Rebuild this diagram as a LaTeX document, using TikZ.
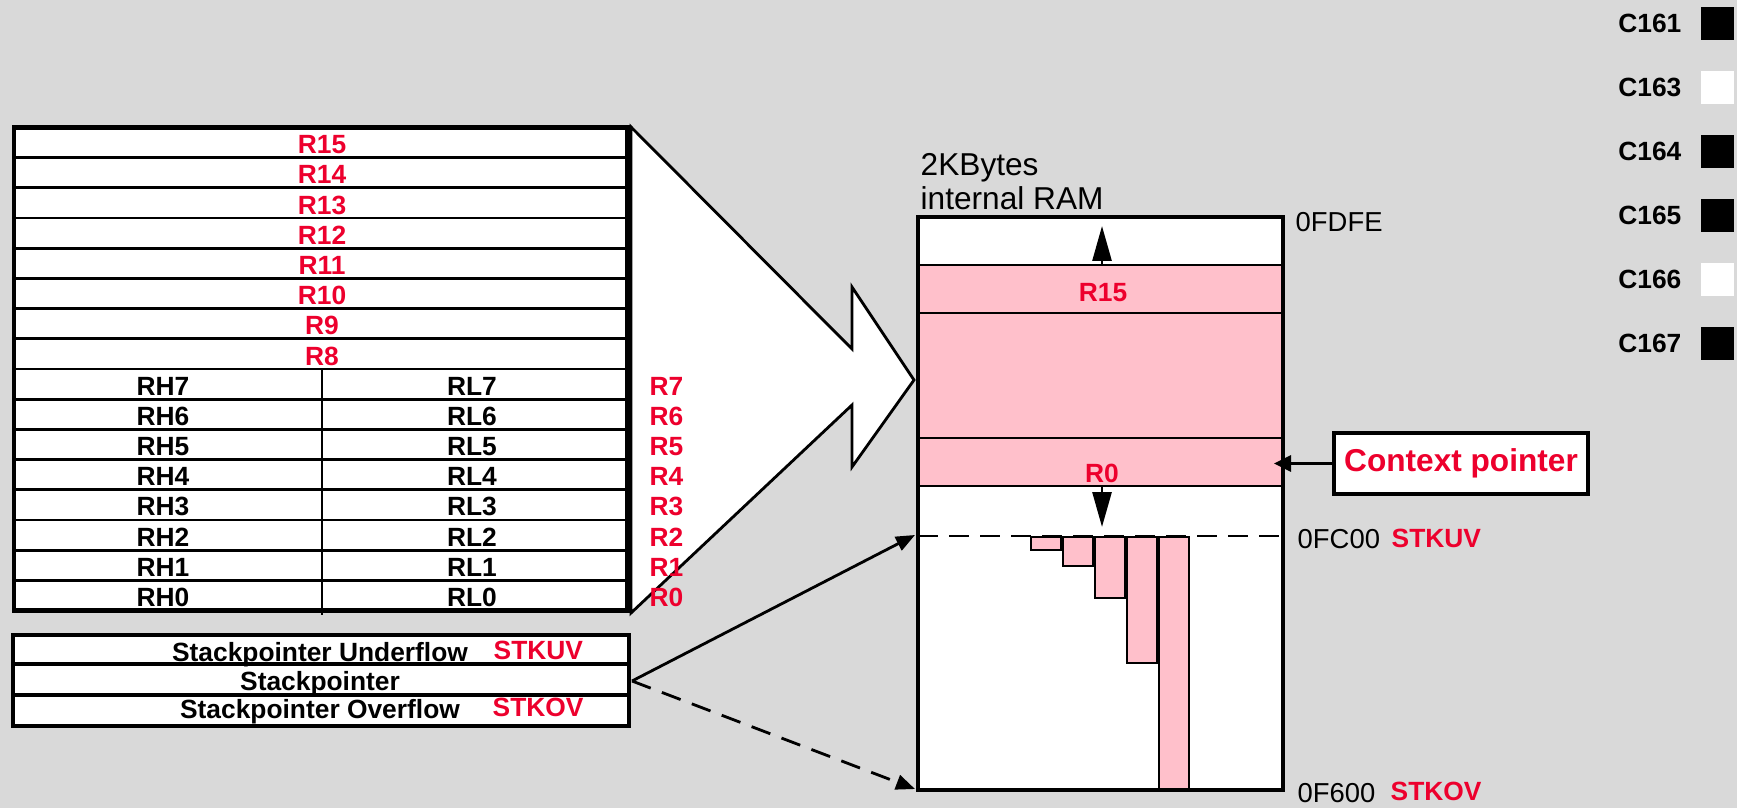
\documentclass[tikz,border=0pt]{standalone}
\usepackage{fontspec}
\setmainfont{Liberation Sans}
\usetikzlibrary{arrows.meta}
\definecolor{bggray}{RGB}{217,217,217}
\definecolor{regred}{RGB}{237,0,45}
\definecolor{rampink}{RGB}{255,192,203}

\begin{document}
\begin{tikzpicture}[x=0.1mm,y=-0.1mm,
    lbl/.style={font=\fontsize{7.5}{9}\selectfont\bfseries,inner sep=0pt,anchor=base},
    redlbl/.style={lbl,text=regred},
    addr/.style={font=\fontsize{7.8}{9}\selectfont,inner sep=0pt,anchor=base west},
    thin line/.style={line width=0.8pt},
    tip/.style={-{Triangle[length=1.9mm,width=1.5mm]}},
    bigtip/.style={-{Triangle[length=3.5mm,width=1.9mm]}}]

            \fill[bggray] (0,0) rectangle (1737,808);
            \useasboundingbox (0,0) rectangle (1737,808);

            \coordinate (wa) at (631,127);
            \coordinate (wb) at (852,349);
            \coordinate (wc) at (852,287);
            \coordinate (wd) at (914,380);
            \coordinate (we) at (852,467);
            \coordinate (wf) at (852,405);
            \coordinate (wg) at (631,613);

            \draw[thin line,fill=white,line join=miter] (wa)--(wb)--(wc)--(wd)--(we)--(wf)--(wg)--cycle;

            % register bank
            \fill[white] (14,127.5) rectangle (628.5,610.5);
            \foreach \k in {1,...,15}{
                \draw[thin line] (14,{127.5+30.19*\k}) -- (628.5,{127.5+30.19*\k});
            }
            \draw[thin line] (322,369) -- (322,615);
            \draw[line width=1.4pt] (14,127.5) rectangle (628.5,610.5);
            \draw[line width=2pt] (628.5,127.5) -- (628.5,612);

            \foreach \n [count=\i] in {15,...,8}{
                \node[redlbl] (r\n) at (322,{127.5+30.19*\i-4}) {R\n};
            }
            \foreach \n [count=\i from 9] in {7,...,0}{
                \node[lbl] (rh\n) at (163,{127.5+30.19*\i-4}) {RH\n};
                \node[lbl] (rl\n) at (472,{127.5+30.19*\i-4}) {RL\n};
                \node[redlbl,anchor=base west] (rr\n) at (649,{127.5+30.19*\i-4}) {R\n};
            }

            % stack pointer registers
            \fill[white] (13,635) rectangle (629,726);
            \draw[line width=1pt] (13,664) -- (629,664);
            \draw[line width=1pt] (13,695) -- (629,695);
            \draw[line width=1.4pt] (13,635) rectangle (629,726);
            \node[lbl] (spuv) at (320,661) {Stackpointer Underflow};
            \node[redlbl,anchor=base west] (spuvtag) at (493,659) {STKUV};
            \node[lbl] (sp) at (320,690) {Stackpointer};
            \node[lbl] (spov) at (320,718) {Stackpointer Overflow};
            \node[redlbl,anchor=base west] (spovtag) at (492,716) {STKOV};

            % internal RAM
            \fill[white] (918,217) rectangle (1283,790);
            \fill[rampink] (918,265) rectangle (1283,486);
            \foreach \y in {265,313,438,486}{
                \draw[thin line] (918,\y) -- (1283,\y);
            }
            \draw[thin line,dash pattern=on 2mm off 1.1mm] (918,536) -- (1283,536);
            \foreach \xa/\yb in {1031/550,1063/566,1095/598,1127/663,1159/790}{
                \draw[thin line,fill=rampink] (\xa,537) rectangle ({\xa+30},\yb);
            }
            \draw[line width=0.9pt] (918,217) rectangle (1283,790);

            \node[redlbl] (ramr15) at (1103,302) {R15};
            \node[redlbl] (ramr0) at (1102,482) {R0};

            \coordinate (upfrom) at (1102,265);
            \coordinate (upto) at (1102,226);
            \coordinate (dnfrom) at (1102,486);
            \coordinate (dnto) at (1102,527);
            \draw[thin line,bigtip] (upfrom) -- (upto);
            \draw[thin line,bigtip] (dnfrom) -- (dnto);

            \node[anchor=north west,inner sep=0pt,align=left,font=\fontsize{9}{9.7}\selectfont] (ramtitle) at (920,153) {2KBytes\\internal RAM};

            \node[addr] (afdfe) at (1295,232) {0FDFE};
            \node[addr] (afc00) at (1297,548) {0FC00};
            \node[addr] (af600) at (1297,802) {0F600};
            \node[redlbl,anchor=base west] (kuvtag) at (1391,547) {STKUV};
            \node[redlbl,anchor=base west] (kovtag) at (1390,800) {STKOV};

            \node[draw,line width=0.9pt,fill=white,minimum width=25.4mm,minimum height=6.1mm,inner sep=0pt,
                text=regred,font=\fontsize{9}{11}\selectfont\bfseries] (ctx) at (1461,463.5) {Context pointer};
            \coordinate (ctxtip) at (1274,463.5);
            \draw[thin line,-{Triangle[length=1.7mm,width=1.6mm]}] (ctx.west) -- (ctxtip);

            \coordinate (spout) at (632,681);
            \coordinate (kuv) at (915,535);
            \coordinate (kov) at (915,789);
            \draw[thin line,tip] (spout) -- (kuv);
            \draw[thin line,tip,dash pattern=on 2mm off 1.2mm] (spout) -- (kov);

            % derivatives
            \foreach \c/\f [count=\i from 0] in {C161/black,C163/white,C164/black,C165/black,C166/white,C167/black}{
                \node[lbl,anchor=base east] (lg\c) at (1682,{33+64*\i}) {\c};
                \fill[\f] (1701,{7+64*\i}) rectangle (1734,{40+64*\i});
            }
        \end{tikzpicture}
\end{document}
